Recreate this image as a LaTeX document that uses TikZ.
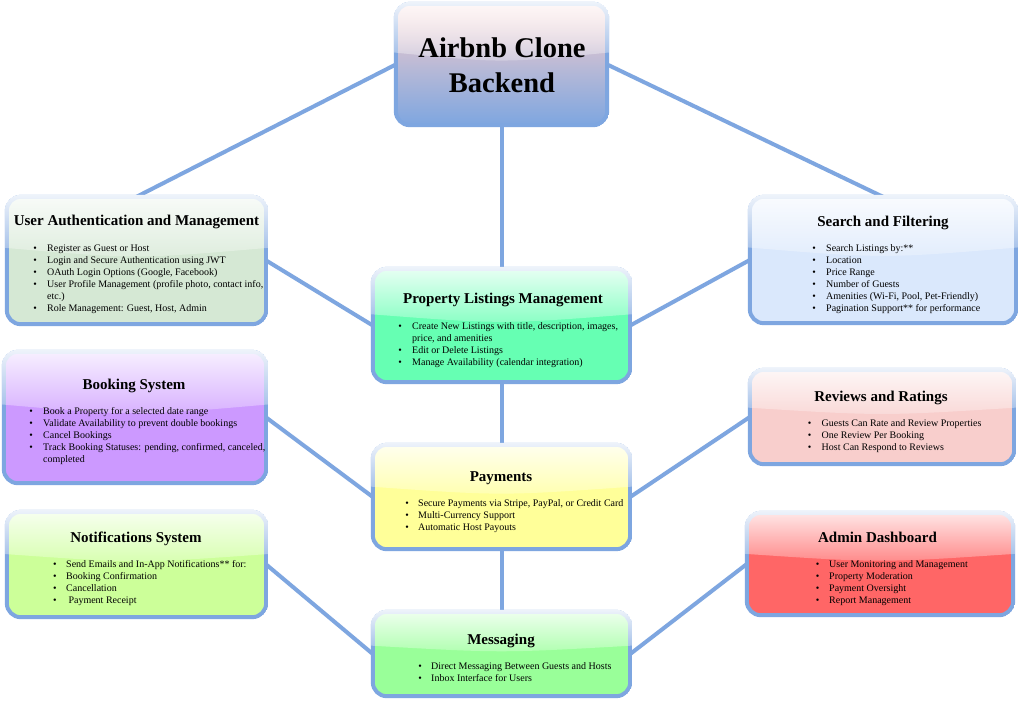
\documentclass[tikz,border=0pt]{standalone}
\usepackage{fontspec}
\setmainfont{Liberation Serif}
\usetikzlibrary{fit,calc,fadings}
\definecolor{bord}{HTML}{7EA6E0}
\definecolor{cauth}{HTML}{D5E8D4}
\definecolor{cprop}{HTML}{66FFB3}
\definecolor{csearch}{HTML}{DAE8FC}
\definecolor{cbook}{HTML}{CC99FF}
\definecolor{cpay}{HTML}{FFFF99}
\definecolor{crev}{HTML}{F8CECC}
\definecolor{cnotif}{HTML}{CCFF99}
\definecolor{cadmin}{HTML}{FF6666}
\definecolor{cmsg}{HTML}{99FF99}
\definecolor{rootpink}{HTML}{F8CECC}
\tikzfading[name=glassfade, top color=transparent!12, bottom color=transparent!78]
\tikzset{
  boxnode/.style={inner sep=0pt, draw=none},
  conn/.style={draw=bord, line width=4pt},
  itm/.style={anchor=base west, inner sep=0pt, font=\fontsize{10}{12}\selectfont},
  bul/.style={anchor=base, inner sep=0pt, font=\fontsize{10}{12}\selectfont},
  ttl/.style={anchor=base, inner sep=0pt, font=\fontsize{15}{18}\selectfont\bfseries},
  roott/.style={anchor=base, inner sep=0pt, font=\fontsize{28.5}{34}\selectfont\bfseries},
}
\newcommand\glassbox[2]{%
  \path[#2, rounded corners=14pt] (#1.north west) rectangle (#1.south east);
  \begin{scope}
    \clip[rounded corners=16pt] ($(#1.north west)+(-2,-2)$) rectangle ($(#1.south east)+(2,2)$);
    \draw[bord, line width=4pt, rounded corners=14pt] (#1.north west) rectangle (#1.south east);
    \fill[white, path fading=glassfade]
      ($(#1.north west)+(-3,-3)$) -- ($(#1.north east)+(3,-3)$)
      -- ($(#1.north east)!0.4!(#1.south east)+(3,0)$)
      .. controls ($(#1.north)!0.49!(#1.south)$) ..
      ($(#1.north west)!0.4!(#1.south west)+(-3,0)$) -- cycle;
  \end{scope}}
\newcommand\bitem[4]{\node[bul] at (#1,#3) {\textbullet}; \node[itm] at (#2,#3) {#4};}
\newcommand\citem[3]{\node[itm] at (#1,#2) {#3};}
\begin{document}
\begin{tikzpicture}[x=1pt, y=-1pt]
\fill[white] (0,0) rectangle (1021,702);
\useasboundingbox (0,0) rectangle (1021,702);
% box nodes
\node[boxnode, fit={(396,4) (607,125)}] (root) {};
\node[boxnode, fit={(7,197) (266,324)}] (auth) {};
\node[boxnode, fit={(373,269) (630,382)}] (prop) {};
\node[boxnode, fit={(750,197) (1016,323)}] (search) {};
\node[boxnode, fit={(4,352) (266,483)}] (book) {};
\node[boxnode, fit={(373,445) (630,549)}] (pay) {};
\node[boxnode, fit={(750,370) (1014,464)}] (rev) {};
\node[boxnode, fit={(7,512) (266,617)}] (notif) {};
\node[boxnode, fit={(747,513) (1013,615)}] (admin) {};
\node[boxnode, fit={(373,612) (630,696)}] (msg) {};
% connectors
\draw[conn] (root.west) -- (auth.north);
\draw[conn] (root.east) -- (search.north);
\draw[conn] (root.south) -- (prop.north);
\draw[conn] (prop.south) -- (pay.north);
\draw[conn] (pay.south) -- (msg.north);
\draw[conn] (auth.east) -- (prop.west);
\draw[conn] (search.west) -- (prop.east);
\draw[conn] (book.east) -- (pay.west);
\draw[conn] (rev.west) -- (pay.east);
\draw[conn] (notif.east) -- (msg.west);
\draw[conn] (admin.west) -- (msg.east);
% boxes
\glassbox{root}{top color=rootpink, bottom color=bord}
\glassbox{auth}{fill=cauth}
\glassbox{prop}{fill=cprop}
\glassbox{search}{fill=csearch}
\glassbox{book}{fill=cbook}
\glassbox{pay}{fill=cpay}
\glassbox{rev}{fill=crev}
\glassbox{notif}{fill=cnotif}
\glassbox{admin}{fill=cadmin}
\glassbox{msg}{fill=cmsg}
% root
\node[roott] (rt1) at (502,57) {Airbnb Clone};
\node[roott] (rt2) at (502,92) {Backend};
% auth
\node[ttl] (tauth) at (136.5,225) {User Authentication and Management};
\bitem{35}{47}{251}{Register as Guest or Host}
\bitem{35}{47}{263}{Login and Secure Authentication using JWT}
\bitem{35}{47}{275}{OAuth Login Options (Google, Facebook)}
\bitem{35}{47}{287}{User Profile Management (profile photo, contact info,}
\citem{47}{299}{etc.)}
\bitem{35}{47}{311}{Role Management: Guest, Host, Admin}
% prop
\node[ttl] (tprop) at (503,303) {Property Listings Management};
\bitem{400}{412}{329.5}{Create New Listings with title, description, images,}
\citem{412}{341.5}{price, and amenities}
\bitem{400}{412}{353.5}{Edit or Delete Listings}
\bitem{400}{412}{365.5}{Manage Availability (calendar integration)}
% search
\node[ttl] (tsearch) at (883,226) {Search and Filtering};
\bitem{814}{826}{251}{Search Listings by:**}
\bitem{814}{826}{263}{Location}
\bitem{814}{826}{275}{Price Range}
\bitem{814}{826}{287}{Number of Guests}
\bitem{814}{826}{299}{Amenities (Wi-Fi, Pool, Pet-Friendly)}
\bitem{814}{826}{311}{Pagination Support** for performance}
% booking
\node[ttl] (tbook) at (134,389.5) {Booking System};
\bitem{31}{43}{414.5}{Book a Property for a selected date range}
\bitem{31}{43}{426.5}{Validate Availability to prevent double bookings}
\bitem{31}{43}{438.5}{Cancel Bookings}
\bitem{31}{43}{450.5}{Track Booking Statuses: pending, confirmed, canceled,}
\citem{43}{462.5}{completed}
% payments
\node[ttl] (tpay) at (501,481) {Payments};
\bitem{407}{418}{506}{Secure Payments via Stripe, PayPal, or Credit Card}
\bitem{407}{418}{518}{Multi-Currency Support}
\bitem{407}{418}{530}{Automatic Host Payouts}
% reviews
\node[ttl] (trev) at (881,401) {Reviews and Ratings};
\bitem{809.5}{821.5}{426}{Guests Can Rate and Review Properties}
\bitem{809.5}{821.5}{438}{One Review Per Booking}
\bitem{809.5}{821.5}{450}{Host Can Respond to Reviews}
% notifications
\node[ttl] (tnotif) at (136,542.5) {Notifications System};
\bitem{55}{66}{567.5}{Send Emails and In-App Notifications** for:}
\bitem{55}{66}{579.5}{Booking Confirmation}
\bitem{55}{66}{591.5}{Cancellation}
\bitem{55}{68.3}{603.5}{Payment Receipt}
% admin
\node[ttl] (tadmin) at (877.5,542.5) {Admin Dashboard};
\bitem{817.5}{829}{567.5}{User Monitoring and Management}
\bitem{817.5}{829}{579.5}{Property Moderation}
\bitem{817.5}{829}{591.5}{Payment Oversight}
\bitem{817.5}{829}{603.5}{Report Management}
% messaging
\node[ttl] (tmsg) at (501,644.5) {Messaging};
\bitem{420}{431}{669.5}{Direct Messaging Between Guests and Hosts}
\bitem{420}{431}{681.5}{Inbox Interface for Users}
\end{tikzpicture}
\end{document}
